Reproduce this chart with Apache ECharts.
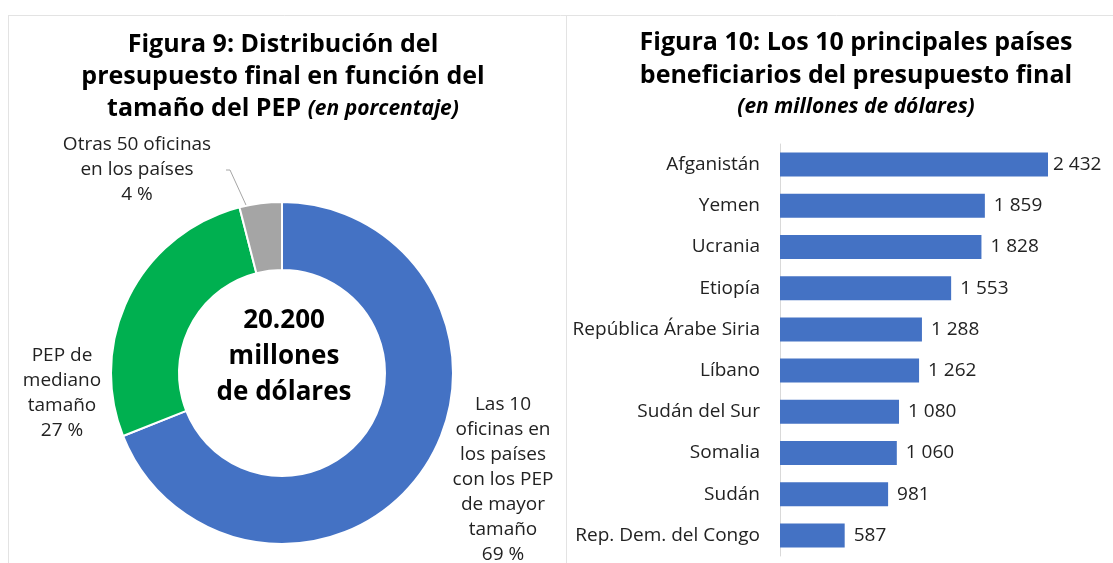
<!DOCTYPE html>
<html>
<head>
<meta charset="utf-8">
<script src="https://cdn.jsdelivr.net/npm/echarts@6/dist/echarts.min.js"></script>
<style>
  html, body { margin: 0; padding: 0; background: #fff; }
  #chart { width: 1113px; height: 563px; }
</style>
</head>
<body>
<div id="chart"></div>
<script>
// Figura 9: distribución del presupuesto (porcentaje)
var pieNames = ['Las 10\noficinas en\nlos países\ncon los PEP\nde mayor\ntamaño', 'PEP de\nmediano\ntamaño', 'Otras 50 oficinas\nen los países'];
var pieValues = [69, 27, 4];
var pieColors = ['#4472C4', '#00B050', '#A5A5A5'];

// Figura 10: los 10 principales países (millones de dólares)
var countries = ['Afganistán', 'Yemen', 'Ucrania', 'Etiopía', 'República Árabe Siria',
  'Líbano', 'Sudán del Sur', 'Somalia', 'Sudán', 'Rep. Dem. del Congo'];
var amounts = [2432, 1859, 1828, 1553, 1288, 1262, 1080, 1060, 981, 587];

var FONT = '"Open Sans", "Noto Sans", sans-serif';

function fmt(v) {
  return String(v).replace(/\B(?=(\d{3})+(?!\d))/g, ' ');
}

// label positions for the donut
var pieLabelPos = [
  { x: 503, y: 480 },
  { x: 62, y: 393 },
  { x: 137, y: 170 }
];

var chart = echarts.init(document.getElementById('chart'));
chart.setOption({
  backgroundColor: '#fff',
  animation: false,
  textStyle: { fontFamily: FONT },
  title: [{
    text: '{b|Figura 9: Distribución del}\n{b|presupuesto final en función del}\n{b|tamaño del PEP }{i|(en porcentaje)}',
    left: 278,
    top: 24,
    textAlign: 'center',
    textStyle: {
      rich: {
        b: { fontFamily: FONT, fontSize: 25, fontWeight: 'bold', color: '#000', lineHeight: 32 },
        i: { fontFamily: FONT, fontSize: 21, fontWeight: 'bold', fontStyle: 'italic', color: '#000', lineHeight: 32 }
      }
    }
  }, {
    text: '{b|Figura 10: Los 10 principales países}\n{b|beneficiarios del presupuesto final}\n{i|(en millones de dólares)}',
    left: 851,
    top: 21,
    textAlign: 'center',
    textStyle: {
      rich: {
        b: { fontFamily: FONT, fontSize: 25, fontWeight: 'bold', color: '#000', lineHeight: 33 },
        i: { fontFamily: FONT, fontSize: 21, fontWeight: 'bold', fontStyle: 'italic', color: '#000', lineHeight: 30 }
      }
    }
  }, {
    text: '20.200\nmillones\nde dólares',
    left: 279,
    top: 298,
    textAlign: 'center',
    textStyle: { fontFamily: FONT, fontSize: 26, fontWeight: 'bold', color: '#000', lineHeight: 36 }
  }],
  graphic: [
    { type: 'line', shape: { x1: 8, y1: 15.5, x2: 1113, y2: 15.5 }, style: { stroke: '#e3e3e3', lineWidth: 1 } },
    { type: 'line', shape: { x1: 8.5, y1: 15, x2: 8.5, y2: 563 }, style: { stroke: '#e3e3e3', lineWidth: 1 } },
    { type: 'line', shape: { x1: 566.5, y1: 15, x2: 566.5, y2: 563 }, style: { stroke: '#e3e3e3', lineWidth: 1 } }
  ],
  grid: { left: 780, top: 144, width: 275.5, height: 412 },
  xAxis: {
    type: 'value',
    min: 0,
    max: 2500,
    show: false
  },
  yAxis: {
    type: 'category',
    inverse: true,
    data: countries,
    axisLine: { lineStyle: { color: '#d9d9d9', width: 1 } },
    axisTick: { show: false },
    axisLabel: { fontFamily: FONT, fontSize: 19, color: '#222', margin: 20 }
  },
  series: [{
    type: 'pie',
    center: [282, 373],
    radius: [103, 171],
    startAngle: 90,
    clockwise: true,
    data: pieValues.map(function (v, i) {
      return {
        value: v,
        name: pieNames[i],
        itemStyle: { color: pieColors[i] },
        labelLine: { show: i === 2, lineStyle: { color: '#a6a6a6', width: 1 } }
      };
    }),
    itemStyle: { borderColor: '#fff', borderWidth: 2 },
    label: {
      show: true,
      position: 'outside',
      formatter: function (p) { return p.name + '\n' + p.value + ' %'; },
      fontFamily: FONT,
      fontSize: 19,
      color: '#222',
      lineHeight: 25,
      align: 'center',
      overflow: 'none',
      width: 200
    },
    labelLayout: function (params) {
      var pos = pieLabelPos[params.dataIndex];
      var res = { x: pos.x, y: pos.y, align: 'center', verticalAlign: 'middle' };
      if (params.dataIndex === 2) {
        res.labelLinePoints = [[246, 205], [230, 170], [226, 170]];
      }
      return res;
    }
  }, {
    type: 'bar',
    data: amounts.map(function (v, i) {
      return { value: v, label: { distance: i === 0 ? 5 : 9 } };
    }),
    barWidth: 24,
    itemStyle: { color: '#4472C4' },
    label: {
      show: true,
      position: 'right',
      fontFamily: FONT,
      fontSize: 19,
      color: '#222',
      formatter: function (p) { return fmt(p.value); }
    }
  }]
});
</script>
</body>
</html>
